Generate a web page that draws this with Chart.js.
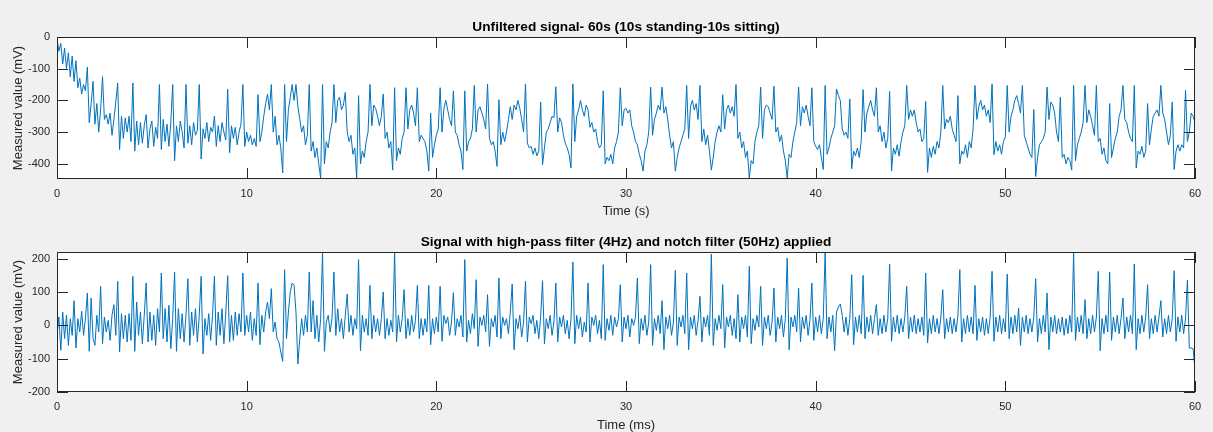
<!DOCTYPE html>
<html>
<head>
<meta charset="utf-8">
<title>ECG – unfiltered / filtered</title>
<script src="https://cdn.jsdelivr.net/npm/chart.js@4.4.1/dist/chart.umd.min.js"></script>
<style>
  html, body { margin: 0; padding: 0; background: #f0f0f0; }
  #wrap { position: relative; width: 1213px; height: 432px; overflow: hidden; }
  canvas { position: absolute; left: 0; display: block; }
  #raw { top: 0; }
  #filtered { top: 216px; }
</style>
</head>
<body>
<div id="wrap">
  <canvas id="raw" width="1213" height="226"></canvas>
  <canvas id="filtered" width="1213" height="216"></canvas>
</div>
<script>
/* two stacked panels, values every 0.1 s */

const SAMPLE_STEP = 0.1;   // seconds between samples
const X_TICKS = [0, 10, 20, 30, 40, 50, 60];
const RAW_Y_TICKS = [-400, -300, -200, -100, 0];
const FILT_Y_TICKS = [-200, -100, 0, 100, 200];

// unfiltered signal (mV), one line per second
const rawSignal = [
  -5, -45, -20, -85, -35, -100, -50, -125, -60, -140,
  -75, -160, -130, -180, -150, -170, -95, -270, -210, -140,
  -275, -210, -300, -230, -125, -260, -245, -275, -240, -310,
  -260, -205, -145, -355, -250, -320, -255, -300, -250, -330,
  -145, -360, -265, -340, -270, -335, -280, -245, -350, -290,
  -265, -345, -285, -320, -150, -355, -260, -330, -275, -345,
  -270, -150, -390, -280, -330, -265, -300, -350, -150, -335,
  -280, -340, -270, -310, -295, -150, -385, -290, -320, -270,
  -330, -285, -300, -250, -345, -280, -330, -270, -300, -325,
  -165, -365, -280, -320, -285, -340, -300, -275, -150, -345,
  -300, -330, -310, -340, -320, -345, -182, -330, -300, -250,
  -210, -180, -230, -150, -300, -250, -340, -310, -350, -429,
  -150, -330, -230, -190, -150, -200, -150, -220, -260, -300,
  -280, -340, -310, -150, -360, -330, -380, -350, -400, -445,
  -150, -400, -330, -350, -300, -270, -150, -270, -200, -190,
  -230, -215, -175, -300, -330, -310, -370, -350, -445, -185,
  -400, -360, -380, -330, -300, -150, -280, -215, -225, -250,
  -280, -250, -180, -320, -300, -350, -330, -420, -160, -390,
  -350, -370, -320, -300, -160, -290, -230, -215, -240, -280,
  -160, -330, -310, -320, -330, -360, -423, -240, -380, -340,
  -310, -290, -160, -300, -225, -200, -230, -260, -280, -170,
  -300, -310, -340, -360, -418, -170, -360, -330, -320, -290,
  -153, -300, -230, -220, -240, -260, -290, -148, -320, -340,
  -330, -360, -408, -198, -340, -300, -330, -300, -260, -220,
  -260, -215, -230, -200, -225, -260, -300, -148, -335, -350,
  -345, -370, -350, -375, -360, -205, -403, -350, -300, -290,
  -270, -250, -255, -157, -300, -255, -270, -310, -335, -350,
  -370, -413, -148, -330, -250, -230, -200, -230, -250, -215,
  -230, -285, -270, -300, -290, -330, -350, -340, -170, -400,
  -380, -390, -370, -400, -350, -330, -300, -160, -280, -230,
  -225, -240, -230, -280, -300, -330, -340, -370, -390, -423,
  -360, -340, -300, -158, -310, -260, -240, -215, -230, -158,
  -240, -220, -260, -310, -350, -330, -423, -380, -350, -330,
  -310, -290, -153, -320, -220, -200, -230, -210, -260, -153,
  -330, -290, -340, -310, -360, -420, -380, -330, -300, -280,
  -300, -182, -290, -230, -215, -240, -220, -250, -150, -320,
  -300, -350, -330, -380, -360, -445, -390, -400, -330, -300,
  -280, -158, -320, -230, -215, -220, -240, -260, -155, -300,
  -285, -330, -310, -360, -390, -445, -370, -380, -330, -300,
  -270, -158, -280, -220, -240, -215, -250, -280, -160, -330,
  -345, -355, -340, -380, -418, -153, -370, -350, -320, -300,
  -280, -164, -185, -200, -290, -310, -300, -320, -196, -416,
  -360, -375, -350, -380, -330, -166, -300, -240, -220, -200,
  -230, -250, -160, -300, -280, -330, -300, -350, -320, -172,
  -423, -350, -370, -340, -376, -330, -300, -280, -153, -260,
  -230, -250, -230, -270, -300, -290, -330, -320, -203, -427,
  -350, -380, -345, -370, -330, -350, -300, -153, -290, -260,
  -270, -250, -290, -310, -330, -185, -400, -360, -370, -340,
  -380, -330, -350, -290, -153, -260, -220, -200, -230, -215,
  -250, -230, -270, -148, -371, -330, -360, -340, -370, -330,
  -315, -153, -300, -250, -230, -200, -185, -210, -240, -153,
  -310, -330, -350, -370, -380, -229, -440, -380, -340, -330,
  -320, -300, -158, -260, -205, -215, -240, -300, -330, -190,
  -380, -370, -400, -380, -390, -420, -153, -390, -340, -320,
  -300, -270, -153, -270, -230, -250, -280, -310, -153, -330,
  -320, -370, -350, -390, -400, -210, -380, -350, -320, -300,
  -250, -230, -153, -260, -270, -300, -320, -330, -153, -413,
  -360, -370, -345, -380, -360, -210, -340, -290, -250, -240,
  -230, -250, -153, -240, -260, -300, -340, -310, -205, -418,
  -360, -340, -360, -340, -350, -168, -330, -300, -240, -250,
  -271
];

// high-pass + notch filtered signal (mV)
const filteredSignal = [
  -30, 25, -75, 40, -40, 30, -60, 20, -30, 74,
  -68, 20, -20, 42, -30, 20, 97, -78, 82, -40,
  -60, 30, -20, 117, -55, 25, -20, 15, -45, 30,
  62, -30, 132, -80, 35, -40, 30, -50, 35, -45,
  147, -78, 70, -30, 40, -55, 30, 127, -50, 40,
  -45, 30, -60, 50, -20, 157, -40, 50, -50, 60,
  -70, 20, 160, -78, 50, -40, 35, -50, 30, 140,
  -60, 40, -30, 50, -50, 30, 147, -86, 20, -30,
  35, -45, 30, 147, -60, 40, -30, 50, -55, 40,
  149, -50, 30, -45, 40, -30, 35, -20, 157, -30,
  30, -20, 40, -45, 20, -30, 127, -58, 30, -20,
  40, 70, 20, 110, -20, 10, -40, -50, -80, -108,
  167, -40, 40, 100, 127, 120, 40, -116, -40, 20,
  -30, 30, -20, 160, -20, 74, -40, 30, -50, 20,
  217, -78, 10, 30, -20, 20, 160, -30, 50, -20,
  20, -40, 30, 94, -20, 30, -30, 20, -10, 197,
  -76, 30, -20, 20, -30, 120, -40, 30, -20, 20,
  -30, 20, 100, -40, 20, -30, 15, -20, 222, -50,
  30, -20, 20, 107, -40, 20, -30, 30, -20, 15,
  120, -40, 20, -30, 20, -20, 120, -58, 20, -25,
  25, -20, 117, -48, 30, 5, 25, -30, 10, 98,
  -30, 20, -5, 30, -35, 197, -50, 15, -25, 35,
  -10, 137, -63, 25, 0, 30, -20, 92, -63, 20,
  -5, 30, -35, 142, -40, 25, 0, 20, -25, 40,
  124, -73, 20, -10, 30, -35, 10, 132, -50, 25,
  5, 30, -25, 15, -40, 25, 134, -55, 20, -10,
  30, -30, 10, 127, -50, 25, -5, 30, -25, 15,
  -40, 20, 190, -55, 30, -10, 25, -35, 10, -20,
  127, -50, 25, 0, 30, -25, 15, -40, 182, -45,
  20, -15, 30, -30, 25, -5, 20, 122, -50, 25,
  -10, 30, -35, 20, 0, 25, 142, -55, 20, -15,
  30, -30, 10, 182, -60, 20, -15, 30, -25, 74,
  -73, 25, -10, 30, -30, 10, 165, -60, 25, -5,
  30, -25, 157, -73, 25, -10, 30, -30, 15, 87,
  -50, 25, -5, 30, -30, 214, -60, 20, -15, 30,
  -10, 122, -68, 25, -5, 30, -30, 20, -40, 92,
  -50, 25, -10, 30, -35, 177, -55, 20, -15, 30,
  -5, 117, -60, 25, -10, 30, -30, 10, 112, -50,
  25, -10, 30, -35, 20, 202, -73, 25, -5, 30,
  -20, 112, -50, 25, -10, 30, -30, 15, 127, -45,
  25, -20, 30, -25, 20, 222, -40, 25, -20, 30,
  -76, 40, 55, 64, 30, -20, 25, -30, 20, 152,
  -58, 25, -20, 30, -25, 150, -40, 25, -20, 30,
  -25, 20, 62, -30, 20, -25, 30, -20, 20, 184,
  -48, 25, -20, 30, -25, 20, -20, 25, 117, -40,
  25, -20, 30, -25, 20, -20, 25, -30, 157, -53,
  20, -25, 30, -20, 20, -25, 25, 107, -40, 20,
  -20, 25, -25, 20, -20, 30, 167, -50, 20, -25,
  30, -20, 25, -25, 120, -45, 20, -20, 25, -30,
  20, -25, 25, 162, -48, 25, -20, 30, -25, 20,
  -20, 154, -40, 25, -25, 30, -20, 52, -60, 25,
  -20, 30, -25, 20, -20, 25, 140, -50, 20, -25,
  30, -20, 97, -73, 25, -20, 30, -25, 20, -20,
  25, -30, 20, -25, 30, -20, 217, -45, 25, -20,
  30, -25, 77, -40, 20, -25, 30, -20, 25, 162,
  -76, 20, -25, 30, -20, 160, -45, 25, -20, 30,
  -25, 20, 82, -40, 25, -20, 30, -25, 184, -73,
  20, -25, 30, -20, 25, 122, -40, 20, -25, 30,
  -20, 25, 74, -35, 20, -25, 30, -20, 20, 164,
  -48, 25, -20, 30, -25, 20, 136, -68, -68, -70,
  -133
];

const timeAxis = rawSignal.map(function (_, i) { return +(i * SAMPLE_STEP).toFixed(1); });

const LINE = '#0072bd';
const AXIS = '#262626';
const FONT = '"Liberation Sans", Arial, Helvetica, sans-serif';
const TICK_LEN = 11;

// white axes box, inward ticks on all four sides, bold title
const matlabAxes = {
  id: 'matlabAxes',
  beforeDraw(chart) {
    const a = chart.chartArea, ctx = chart.ctx;
    ctx.save();
    ctx.fillStyle = '#ffffff';
    ctx.fillRect(a.left, a.top, a.right - a.left, a.bottom - a.top);
    ctx.restore();
  },
  afterDraw(chart, args, opts) {
    const a = chart.chartArea, ctx = chart.ctx;
    const x = chart.scales.x, y = chart.scales.y;
    ctx.save();
    ctx.strokeStyle = AXIS;
    ctx.lineWidth = 1;
    ctx.beginPath();
    x.ticks.forEach(function (t) {
      const px = Math.round(x.getPixelForValue(t.value)) + 0.5;
      ctx.moveTo(px, a.bottom); ctx.lineTo(px, a.bottom - TICK_LEN);
      ctx.moveTo(px, a.top); ctx.lineTo(px, a.top + TICK_LEN);
    });
    y.ticks.forEach(function (t) {
      const py = Math.round(y.getPixelForValue(t.value)) + 0.5;
      ctx.moveTo(a.left, py); ctx.lineTo(a.left + TICK_LEN, py);
      ctx.moveTo(a.right, py); ctx.lineTo(a.right - TICK_LEN, py);
    });
    ctx.stroke();
    ctx.strokeRect(Math.round(a.left) + 0.5, Math.round(a.top) + 0.5,
      Math.round(a.right - a.left) - 1, Math.round(a.bottom - a.top) - 1);
    ctx.fillStyle = '#000000';
    ctx.font = 'bold 13.7px ' + FONT;
    ctx.textAlign = 'center';
    ctx.textBaseline = 'middle';
    ctx.fillText(opts.title, (a.left + a.right) / 2, a.top - 10);
    ctx.restore();
  }
};

function makePanel(id, values, cfg) {
  return new Chart(document.getElementById(id), {
    type: 'line',
    data: {
      labels: timeAxis,
      datasets: [{
        data: values,
        borderColor: LINE,
        borderWidth: 1,
        pointRadius: 0,
        tension: 0,
        fill: false
      }]
    },
    options: {
      responsive: false,
      animation: false,
      events: [],
      layout: { padding: { top: cfg.top, right: 18, left: 0, bottom: cfg.bottom } },
      plugins: {
        legend: { display: false },
        tooltip: { enabled: false },
        matlabAxes: { title: cfg.title }
      },
      scales: {
        x: {
          type: 'linear',
          min: 0,
          max: 60,
          grid: { display: false, drawTicks: false },
          border: { display: false },
          afterBuildTicks: function (s) { s.ticks = X_TICKS.map(function (v) { return { value: v }; }); },
          afterFit: function (s) { s.height = cfg.xHeight; },
          ticks: { color: AXIS, font: { family: FONT, size: 11 }, padding: 8, maxRotation: 0 },
          title: {
            display: true,
            text: cfg.xTitle,
            color: AXIS,
            font: { family: FONT, size: 13, lineHeight: 1 },
            padding: { top: 0, bottom: cfg.xTitlePad }
          }
        },
        y: {
          min: cfg.yMin,
          max: cfg.yMax,
          grid: { display: false, drawTicks: false },
          border: { display: false },
          afterBuildTicks: function (s) { s.ticks = cfg.yTicks.map(function (v) { return { value: v }; }); },
          afterFit: function (s) { s.width = 57; },
          ticks: { color: AXIS, font: { family: FONT, size: 11 }, padding: 7 },
          title: {
            display: true,
            text: 'Measured value (mV)',
            color: AXIS,
            font: { family: FONT, size: 13, lineHeight: 1 },
            padding: { top: 12, bottom: 0 }
          }
        }
      }
    },
    plugins: [matlabAxes]
  });
}

makePanel('raw', rawSignal, {
  title: 'Unfiltered signal- 60s (10s standing-10s sitting)',
  xTitle: 'Time (s)',
  top: 37, bottom: 10, xHeight: 37, xTitlePad: -2,
  yMin: -448, yMax: 0, yTicks: RAW_Y_TICKS
});

makePanel('filtered', filteredSignal, {
  title: 'Signal with high-pass filter (4Hz) and notch filter (50Hz) applied',
  xTitle: 'Time (ms)',
  top: 36, bottom: 0, xHeight: 40, xTitlePad: 0,
  yMin: -200, yMax: 220, yTicks: FILT_Y_TICKS
});
</script>
</body>
</html>
